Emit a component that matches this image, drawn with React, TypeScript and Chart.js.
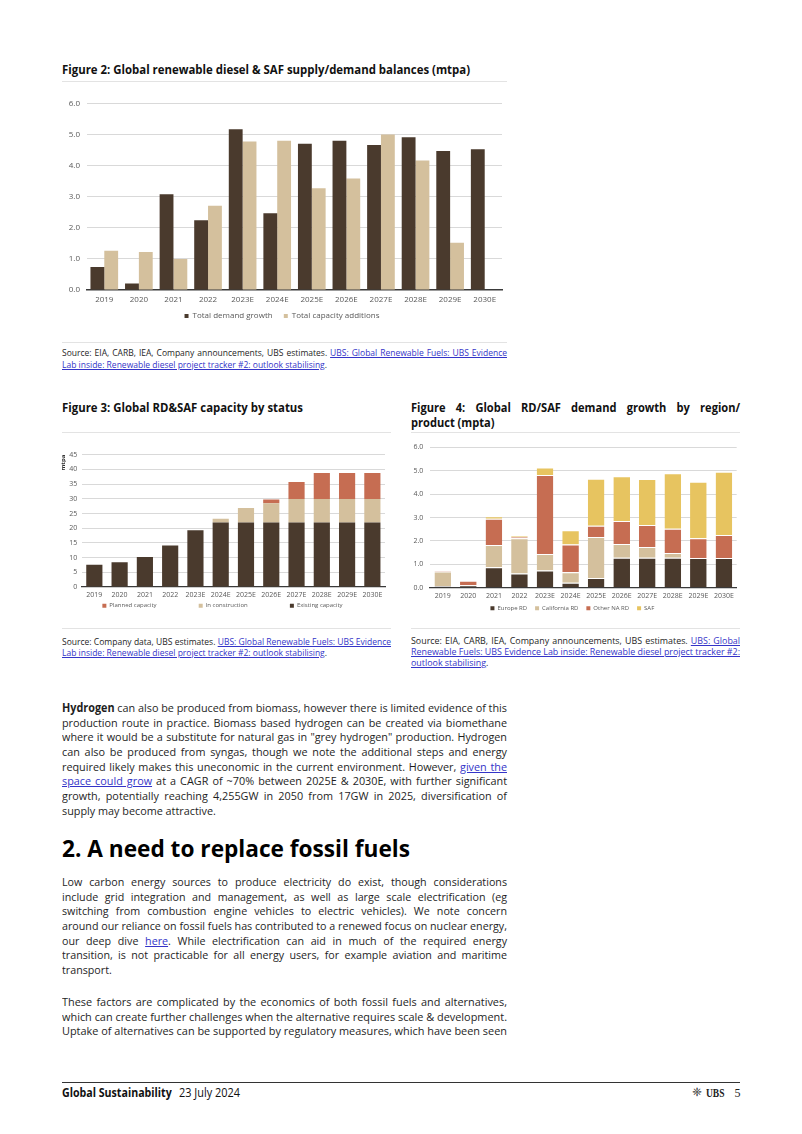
import React, { useEffect, useLayoutEffect, useRef, useState } from 'react';
import { Chart, registerables } from 'chart.js';

Chart.register(...registerables);

// ---------- data ----------
const years = ['2019', '2020', '2021', '2022', '2023E', '2024E', '2025E', '2026E', '2027E', '2028E', '2029E', '2030E'];

// Figure 2
const demandGrowth = [0.74, 0.21, 3.08, 2.24, 5.17, 2.47, 4.70, 4.80, 4.66, 4.91, 4.47, 4.52];
const capacityAdditions: (number | null)[] = [1.26, 1.22, 1.0, 2.71, 4.77, 4.8, 3.27, 3.58, 5.0, 4.16, 1.52, null];
const fig2Ticks = [0, 1, 2, 3, 4, 5, 6];

// Figure 3
const existingCapacity = [7.6, 8.4, 10.2, 14.1, 19.3, 21.9, 21.9, 21.9, 21.9, 21.9, 21.9, 21.9];
const inConstruction = [0, 0, 0, 0, 0, 1.3, 5.0, 6.6, 8.0, 8.0, 8.0, 8.0];
const plannedCapacity = [0, 0, 0, 0, 0, 0, 0, 1.3, 5.8, 8.9, 8.9, 8.9];
const fig3Ticks = [0, 5, 10, 15, 20, 25, 30, 35, 40, 45];

// Figure 4
const europeRD = [0.07, 0.10, 0.87, 0.61, 0.74, 0.21, 0.41, 1.28, 1.28, 1.28, 1.27, 1.27];
const californiaRD = [0.62, 0.0, 0.95, 1.5, 0.70, 0.45, 1.76, 0.59, 0.46, 0.20, 0.0, 0.0];
const otherNARD = [0.05, 0.20, 1.13, 0.07, 3.38, 1.19, 0.48, 0.98, 0.94, 1.04, 0.84, 0.98];
const saf = [0.0, 0.0, 0.10, 0.06, 0.32, 0.60, 2.01, 1.91, 1.97, 2.37, 2.42, 2.71];
const fig4Ticks = [0, 1, 2, 3, 4, 5, 6];

// ---------- styles ----------
const FONT = "'Open Sans', 'Noto Sans', sans-serif";
const DARK = '#4a3a2d';
const TAN = '#d4c09d';
const RED = '#c66d52';
const YELLOW = '#e7c460';
const TICK = '#595959';
const GRID = '#d9d9d9';
const AXIS = '#3a3a3a';
const LINK = '#3434c8';

Chart.defaults.font.family = FONT;

// ---------- text block with justification ----------
type LineSpec = { c: React.ReactNode; j?: boolean };

function TextBlock(props: {
  left: number; top: number; width: number; lh: number; size: number;
  weight?: number; color?: string; family?: string; lines: LineSpec[];
  fit?: { i: number; w: number };
}) {
  const { left, top, width, lh, size, weight = 400, color = '#1e1e1e', family = FONT, lines, fit } = props;
  const refs = useRef<(HTMLSpanElement | null)[]>([]);
  const [m, setM] = useState<{ s: number; ws: number[] } | null>(null);
  useLayoutEffect(() => {
    const ws = refs.current.map((r) => (r ? r.getBoundingClientRect().width : 0));
    const spaces = refs.current.map((r) => ((r && r.textContent) || '').split(' ').length - 1);
    let s = 1;
    if (fit) s = fit.w / ws[fit.i];
    else {
      let mx = 0;
      lines.forEach((l, i) => { if (l.j) mx = Math.max(mx, ws[i]); });
      s = mx ? width / mx : 1;
    }
    const inner = width / s;
    const wsp = lines.map((l, i) => (l.j && spaces[i] > 0 ? (inner - ws[i]) / spaces[i] : 0));
    setM({ s, ws: wsp });
  }, []);
  return (
    <div
      style={{
        position: 'absolute', left, top, width: m ? width / m.s : width,
        transform: m ? `scaleX(${m.s})` : undefined, transformOrigin: '0 0',
        fontSize: size, lineHeight: lh + 'px', fontWeight: weight, color, fontFamily: family,
        whiteSpace: 'nowrap',
      }}
    >
      {lines.map((l, i) => (
        <div key={i} style={{ height: lh }}>
          <span ref={(el) => { refs.current[i] = el; }} style={{ wordSpacing: m ? m.ws[i] : 0 }}>{l.c}</span>
        </div>
      ))}
    </div>
  );
}

const A = ({ children }: { children: React.ReactNode }) => (
  <span style={{ color: LINK, textDecoration: 'underline' }}>{children}</span>
);

function HLine({ left, top, width, color = '#e3e3e3', h = 1 }: { left: number; top: number; width: number; color?: string; h?: number }) {
  return <div style={{ position: 'absolute', left, top, width, height: h, background: color }} />;
}

// ---------- chart box ----------
function ChartBox({ left, top, width, height, make }: { left: number; top: number; width: number; height: number; make: () => any }) {
  const ref = useRef<HTMLCanvasElement>(null);
  useEffect(() => {
    const chart = new Chart(ref.current as HTMLCanvasElement, make());
    return () => chart.destroy();
  }, []);
  return (
    <div style={{ position: 'absolute', left, top, width, height }}>
      <canvas ref={ref} width={width} height={height} style={{ width, height, display: 'block' }} />
    </div>
  );
}

const gridColor = (c: any) => (c.tick && c.tick.value === 0 ? 'rgba(0,0,0,0)' : GRID);

// legend labels with extra trailing space after every item but the last one shown
function spacedLabels(extra: number, lastDataset: number) {
  return (chart: any) => {
    const items = (Chart.defaults.plugins.legend.labels as any).generateLabels(chart);
    return items.map((it: any) => ({
      ...it,
      lineWidth: 0,
      text: it.datasetIndex !== lastDataset ? it.text + ' '.repeat(extra) : it.text,
    }));
  };
}

function xAxis(size: number, pad: number, h: number, stacked: boolean, borderW: number) {
  return {
    stacked,
    grid: { display: false, drawTicks: false },
    border: { display: true, color: AXIS, width: borderW },
    ticks: { font: { size, lineHeight: 1 }, color: TICK, padding: pad, autoSkip: false, maxRotation: 0, minRotation: 0 },
    afterFit: (s: any) => { s.height = h; },
  };
}

function fig2Config() {
  return {
    type: 'bar',
    data: {
      labels: years,
      datasets: [
        { label: 'Total demand growth', data: demandGrowth, backgroundColor: DARK, categoryPercentage: 0.8, barPercentage: 1.0 },
        { label: 'Total capacity additions', data: capacityAdditions, backgroundColor: TAN, categoryPercentage: 0.8, barPercentage: 1.0 },
      ],
    },
    options: {
      responsive: false, animation: false,
      layout: { padding: { top: 15.3, right: 6, bottom: 2, left: 0 } },
      plugins: {
        legend: {
          position: 'bottom',
          labels: { boxWidth: 4, boxHeight: 4, padding: 7, font: { size: 8 }, color: TICK, generateLabels: spacedLabels(2, 1) },
        },
        tooltip: { enabled: false },
      },
      scales: {
        x: xAxis(8, 6, 15, false, 1.5),
        y: {
          min: 0, max: 6,
          afterBuildTicks: (s: any) => { s.ticks = fig2Ticks.map((v) => ({ value: v })); },
          ticks: { callback: (v: any) => Number(v).toFixed(1), font: { size: 8 }, color: TICK, padding: 7 },
          grid: { color: gridColor, drawTicks: false }, border: { display: false },
          afterFit: (s: any) => { s.width = 25; },
        },
      },
    },
  };
}

function fig3Config() {
  return {
    type: 'bar',
    data: {
      labels: years,
      datasets: [
        { label: 'Existing capacity', data: existingCapacity, backgroundColor: DARK },
        { label: 'In construction', data: inConstruction, backgroundColor: TAN },
        { label: 'Planned capacity', data: plannedCapacity, backgroundColor: RED },
      ],
    },
    options: {
      responsive: false, animation: false,
      datasets: { bar: { categoryPercentage: 0.64, barPercentage: 1.0 } },
      layout: { padding: { top: 14.7, right: 5, bottom: 3.3, left: 0 } },
      plugins: {
        legend: {
          position: 'bottom', reverse: true,
          labels: { boxWidth: 4, boxHeight: 4, padding: 3.2, font: { size: 6 }, color: TICK, generateLabels: spacedLabels(25, 0) },
        },
        tooltip: { enabled: false },
      },
      scales: {
        x: xAxis(7, 4.5, 12.5, true, 1.3),
        y: {
          stacked: true, min: 0, max: 45,
          afterBuildTicks: (s: any) => { s.ticks = fig3Ticks.map((v) => ({ value: v })); },
          ticks: { font: { size: 7 }, color: TICK, padding: 4.4 },
          grid: { color: gridColor, drawTicks: false }, border: { display: false },
          title: { display: true, text: 'mtpa', align: 'end', font: { size: 6, weight: 'bold' }, color: '#333', padding: { top: 0, bottom: 0 } },
          afterFit: (s: any) => { s.width = 21.7; },
        },
      },
    },
  };
}

function fig4Config() {
  const seg = { borderColor: '#ffffff', borderWidth: { top: 1, left: 0, right: 0, bottom: 0 }, borderSkipped: false };
  return {
    type: 'bar',
    data: {
      labels: years,
      datasets: [
        { label: 'Europe RD', data: europeRD, backgroundColor: DARK, ...seg },
        { label: 'California RD', data: californiaRD, backgroundColor: TAN, ...seg },
        { label: 'Other NA RD', data: otherNARD, backgroundColor: RED, ...seg },
        { label: 'SAF', data: saf, backgroundColor: YELLOW, ...seg },
      ],
    },
    options: {
      responsive: false, animation: false,
      datasets: { bar: { categoryPercentage: 0.65, barPercentage: 1.0 } },
      layout: { padding: { top: 14.3, right: 5.3, bottom: 1.7, left: 0 } },
      plugins: {
        legend: {
          position: 'bottom',
          labels: { boxWidth: 4, boxHeight: 4, padding: 4.8, font: { size: 6 }, color: TICK, generateLabels: spacedLabels(2, 3) },
        },
        tooltip: { enabled: false },
      },
      scales: {
        x: xAxis(7, 4.8, 12.8, true, 1.3),
        y: {
          stacked: true, min: 0, max: 6,
          afterBuildTicks: (s: any) => { s.ticks = fig4Ticks.map((v) => ({ value: v })); },
          ticks: { callback: (v: any) => Number(v).toFixed(1), font: { size: 7 }, color: TICK, padding: 6.7 },
          grid: { color: gridColor, drawTicks: false }, border: { display: false },
          afterFit: (s: any) => { s.width = 22; },
        },
      },
    },
  };
}

export default function App() {
  return (
    <div style={{ position: 'absolute', left: 0, top: 0, width: 802, height: 1134, background: '#fff', overflow: 'hidden' }}>
      {/* Figure 2 */}
      <TextBlock left={62} top={63} width={445} lh={14} size={12} weight={700} color="#111"
        lines={[{ c: 'Figure 2: Global renewable diesel & SAF supply/demand balances (mtpa)' }]} fit={{ i: 0, w: 408 }} />
      <HLine left={62} top={81} width={445} />
      <ChartBox left={62} top={88} width={446} height={244} make={fig2Config} />
      <HLine left={62} top={342} width={445} />
      <TextBlock left={62} top={347} width={445} lh={11.6} size={9}
        lines={[
          { c: <>Source: EIA, CARB, IEA, Company announcements, UBS estimates. <A>UBS: Global Renewable Fuels: UBS Evidence</A></>, j: true },
          { c: <><A>Lab inside: Renewable diesel project tracker #2: outlook stabilising</A>.</> },
        ]} fit={{ i: 1, w: 265 }} />

      {/* Figure 3 */}
      <TextBlock left={62} top={401.3} width={329} lh={14} size={12} weight={700} color="#111"
        lines={[{ c: 'Figure 3: Global RD&SAF capacity by status' }]} fit={{ i: 0, w: 241 }} />
      <HLine left={62} top={432} width={329} />
      <ChartBox left={60} top={440} width={330} height={182} make={fig3Config} />
      <HLine left={62} top={628} width={329} />
      <TextBlock left={62} top={635.5} width={329} lh={11} size={9}
        lines={[
          { c: <>Source: Company data, UBS estimates. <A>UBS: Global Renewable Fuels: UBS Evidence</A></>, j: true },
          { c: <><A>Lab inside: Renewable diesel project tracker #2: outlook stabilising</A>.</> },
        ]} fit={{ i: 1, w: 265 }} />

      {/* Figure 4 */}
      <TextBlock left={411} top={399.8} width={329} lh={15} size={12} weight={700} color="#111"
        lines={[{ c: 'Figure 4: Global RD/SAF demand growth by region/', j: true }, { c: 'product (mpta)' }]} fit={{ i: 1, w: 83.5 }} />
      <HLine left={411} top={432} width={329} />
      <ChartBox left={408} top={433} width={334} height={190} make={fig4Config} />
      <HLine left={411} top={628} width={329} />
      <TextBlock left={411} top={635.2} width={329} lh={11} size={9}
        lines={[
          { c: <>Source: EIA, CARB, IEA, Company announcements, UBS estimates. <A>UBS: Global</A></>, j: true },
          { c: <A>Renewable Fuels: UBS Evidence Lab inside: Renewable diesel project tracker #2:</A>, j: true },
          { c: <><A>outlook stabilising</A>.</> },
        ]} />

      {/* Body */}
      <TextBlock left={62} top={701} width={445} lh={14.67} size={11.5}
        lines={[
          { c: <><b>Hydrogen</b> can also be produced from biomass, however there is limited evidence of this</>, j: true },
          { c: 'production route in practice. Biomass based hydrogen can be created via biomethane', j: true },
          { c: 'where it would be a substitute for natural gas in "grey hydrogen" production. Hydrogen', j: true },
          { c: 'can also be produced from syngas, though we note the additional steps and energy', j: true },
          { c: <>required likely makes this uneconomic in the current environment. However, <A>given the</A></>, j: true },
          { c: <><A>space could grow</A> at a CAGR of ~70% between 2025E &amp; 2030E, with further significant</>, j: true },
          { c: 'growth, potentially reaching 4,255GW in 2050 from 17GW in 2025, diversification of', j: true },
          { c: 'supply may become attractive.' },
        ]} />

      <TextBlock left={62} top={833.3} width={445} lh={30} size={24} weight={700} color="#000"
        lines={[{ c: '2. A need to replace fossil fuels' }]} fit={{ i: 0, w: 348 }} />

      <TextBlock left={62} top={875.4} width={445} lh={14.56} size={11.5}
        lines={[
          { c: 'Low carbon energy sources to produce electricity do exist, though considerations', j: true },
          { c: 'include grid integration and management, as well as large scale electrification (eg', j: true },
          { c: 'switching from combustion engine vehicles to electric vehicles). We note concern', j: true },
          { c: 'around our reliance on fossil fuels has contributed to a renewed focus on nuclear energy,', j: true },
          { c: <>our deep dive <A>here</A>. While electrification can aid in much of the required energy</>, j: true },
          { c: 'transition, is not practicable for all energy users, for example aviation and maritime', j: true },
          { c: 'transport.' },
        ]} />

      <TextBlock left={62} top={995.4} width={445} lh={14.5} size={11.5}
        lines={[
          { c: 'These factors are complicated by the economics of both fossil fuels and alternatives,', j: true },
          { c: 'which can create further challenges when the alternative requires scale & development.', j: true },
          { c: 'Uptake of alternatives can be supported by regulatory measures, which have been seen', j: true },
        ]} />

      {/* Footer */}
      <HLine left={62} top={1082} width={678} color="#333" h={1} />
      <TextBlock left={62} top={1086.3} width={110} lh={14} size={12} weight={700} color="#111"
        lines={[{ c: 'Global Sustainability' }]} fit={{ i: 0, w: 109.7 }} />
      <TextBlock left={179} top={1086.3} width={61} lh={14} size={12} color="#111"
        lines={[{ c: '23 July 2024' }]} fit={{ i: 0, w: 61 }} />
      <div style={{ position: 'absolute', left: 692, top: 1085, fontSize: 12, lineHeight: '14px', fontFamily: "'DejaVu Sans', sans-serif", color: '#333' }}>❈</div>
      <TextBlock left={706} top={1085.5} width={18} lh={14} size={12} weight={700} color="#222" family="'Liberation Serif', serif"
        lines={[{ c: 'UBS' }]} fit={{ i: 0, w: 18.5 }} />
      <div style={{ position: 'absolute', left: 734.5, top: 1086.3, fontSize: 12, lineHeight: '14px', fontFamily: "'Liberation Serif', serif", color: '#222' }}>5</div>
    </div>
  );
}
